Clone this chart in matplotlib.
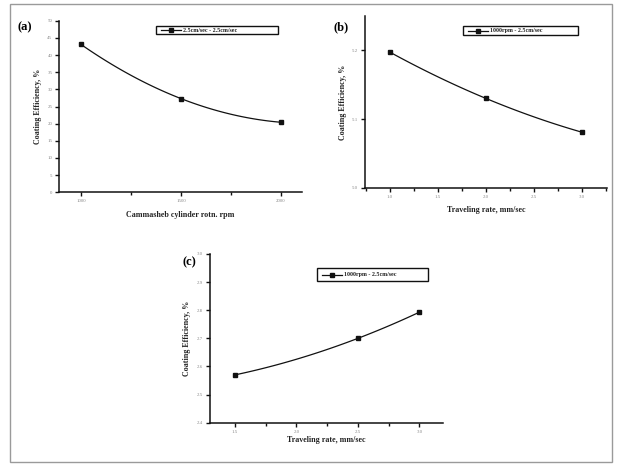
import numpy as np
import matplotlib
matplotlib.use("Agg")
import matplotlib.pyplot as plt
from matplotlib.patches import Rectangle
from matplotlib.ticker import MultipleLocator

# ---- data ----
a_x = [1000, 1500, 2000]
a_y = [43.1, 27.3, 20.4]
a_legend = "2.5cm/sec - 2.5cm/sec"
a_xticks = [1000, 1500, 2000]
a_yticks = [0, 5, 10, 15, 20, 25, 30, 35, 40, 45, 50]

b_x = [1.0, 2.0, 3.0]
b_y = [5.197, 5.130, 5.081]
b_legend = "1000rpm - 2.5cm/sec"
b_xticks = [1.0, 1.5, 2.0, 2.5, 3.0]
b_yticks = [5.0, 5.1, 5.2]

c_x = [1.5, 2.5, 3.0]
c_y = [2.570, 2.700, 2.793]
c_legend = "1000rpm - 2.5cm/sec"
c_xticks = [1.5, 2.0, 2.5, 3.0]
c_yticks = [2.4, 2.5, 2.6, 2.7, 2.8, 2.9, 3.0]

ylabel = "Coating Efficiency, %"
a_xlabel = "Cammasheb cylinder rotn. rpm"
bc_xlabel = "Traveling rate, mm/sec"

W, H = 617, 466
fig = plt.figure(figsize=(W / 100, H / 100), dpi=100)
fig.patch.set_facecolor("white")

serif = ["Liberation Serif", "DejaVu Serif"]

# outer frame
fig.add_artist(Rectangle((10 / W, 1 - 462 / H), 602 / W, 458 / H,
                         transform=fig.transFigure, fill=False,
                         edgecolor="#9a9a9a", lw=1.0))


def px_axes(l, t, r, b):
    return fig.add_axes([l / W, 1 - b / H, (r - l) / W, (b - t) / H])


def style(ax, x, y, xt, yt, xlim, ylim, minor, leg, xlabel, fmtx, fmty,
          legbox, panel, panelpos, ylab_x, xlab_y):
    xs = np.linspace(x[0], x[-1], 60)
    coef = np.polyfit(x, y, 2)
    ax.plot(xs, np.polyval(coef, xs), color="#111111", lw=0.9)
    ax.plot(x, y, ls="none", marker="s", ms=2.6, color="#111111")
    ax.set_xlim(*xlim)
    ax.set_ylim(*ylim)
    ax.set_xticks(xt)
    ax.set_yticks(yt)
    ax.set_xticklabels([fmtx(v) for v in xt])
    ax.set_yticklabels([fmty(v) for v in yt])
    ax.xaxis.set_minor_locator(MultipleLocator(minor))
    for s in ["top", "right"]:
        ax.spines[s].set_visible(False)
    for s in ["left", "bottom"]:
        ax.spines[s].set_linewidth(1.1)
        ax.spines[s].set_color("#111111")
    ax.tick_params(which="major", length=3, width=1.0, labelsize=3.5,
                   labelcolor="#888888", pad=2, color="#111111")
    ax.tick_params(which="minor", axis="x", length=2, width=1.0, color="#111111")
    for lab in ax.get_xticklabels() + ax.get_yticklabels():
        lab.set_family(serif)
    ax.patch.set_alpha(0)
    # legend box in pixel coordinates
    l, t, r, b = legbox
    fig.add_artist(Rectangle((l / W, 1 - b / H), (r - l) / W, (b - t) / H,
                             transform=fig.transFigure, fill=False,
                             edgecolor="#111111", lw=1.0))
    ym = 1 - (t + b) / 2 / H
    fig.add_artist(plt.Line2D([(l + 5) / W, (l + 25) / W], [ym, ym],
                              transform=fig.transFigure, color="#111111",
                              lw=0.9))
    fig.add_artist(plt.Line2D([(l + 15) / W], [ym], transform=fig.transFigure,
                              marker="s", ms=2.6, color="#111111"))
    fig.text((l + 27) / W, ym, leg, fontsize=4.3, family=serif,
             fontweight="bold", va="center", ha="left", color="#222222")
    fig.text(panelpos[0] / W, 1 - panelpos[1] / H, panel, fontsize=9,
             family=serif, fontweight="bold", ha="left", va="center")
    fig.text(ylab_x / W, 1 - (t_ax(ax)) / H, ylabel, rotation=90,
             fontsize=5.8, family=serif, fontweight="bold",
             ha="center", va="center", color="#222222")
    pos = ax.get_position()
    fig.text((pos.x0 + pos.x1) / 2, 1 - xlab_y / H, xlabel, fontsize=5.8,
             family=serif, fontweight="bold", ha="center", va="center",
             color="#222222")


def t_ax(ax):
    pos = ax.get_position()
    return (1 - (pos.y0 + pos.y1) / 2) * H


fi = lambda v: f"{v:.0f}"
f1 = lambda v: f"{v:.1f}"

ax_a = px_axes(59.3, 20.7, 301.7, 192.3)
style(ax_a, a_x, a_y, a_xticks, a_yticks, (892, 2103), (0, 50), 250,
      a_legend, a_xlabel, fi, fi, (156, 26, 278, 34), "(a)", (18, 27),
      38, 215)

ax_b = px_axes(365, 15.7, 606.7, 188.3)
style(ax_b, b_x, b_y, b_xticks, b_yticks, (0.739, 3.261), (4.9995, 5.25),
      0.25, b_legend, bc_xlabel, f1, f1, (463, 26, 578, 35), "(b)",
      (334, 27), 343, 210)

ax_c = px_axes(210, 254, 443.3, 422.7)
style(ax_c, c_x, c_y, c_xticks, c_yticks, (1.297, 3.195), (2.4, 3.0),
      0.25, c_legend, bc_xlabel, f1, f1, (317, 268, 428, 281), "(c)",
      (183, 262), 187, 440)

fig.savefig("out.png", dpi=100, facecolor="white")
